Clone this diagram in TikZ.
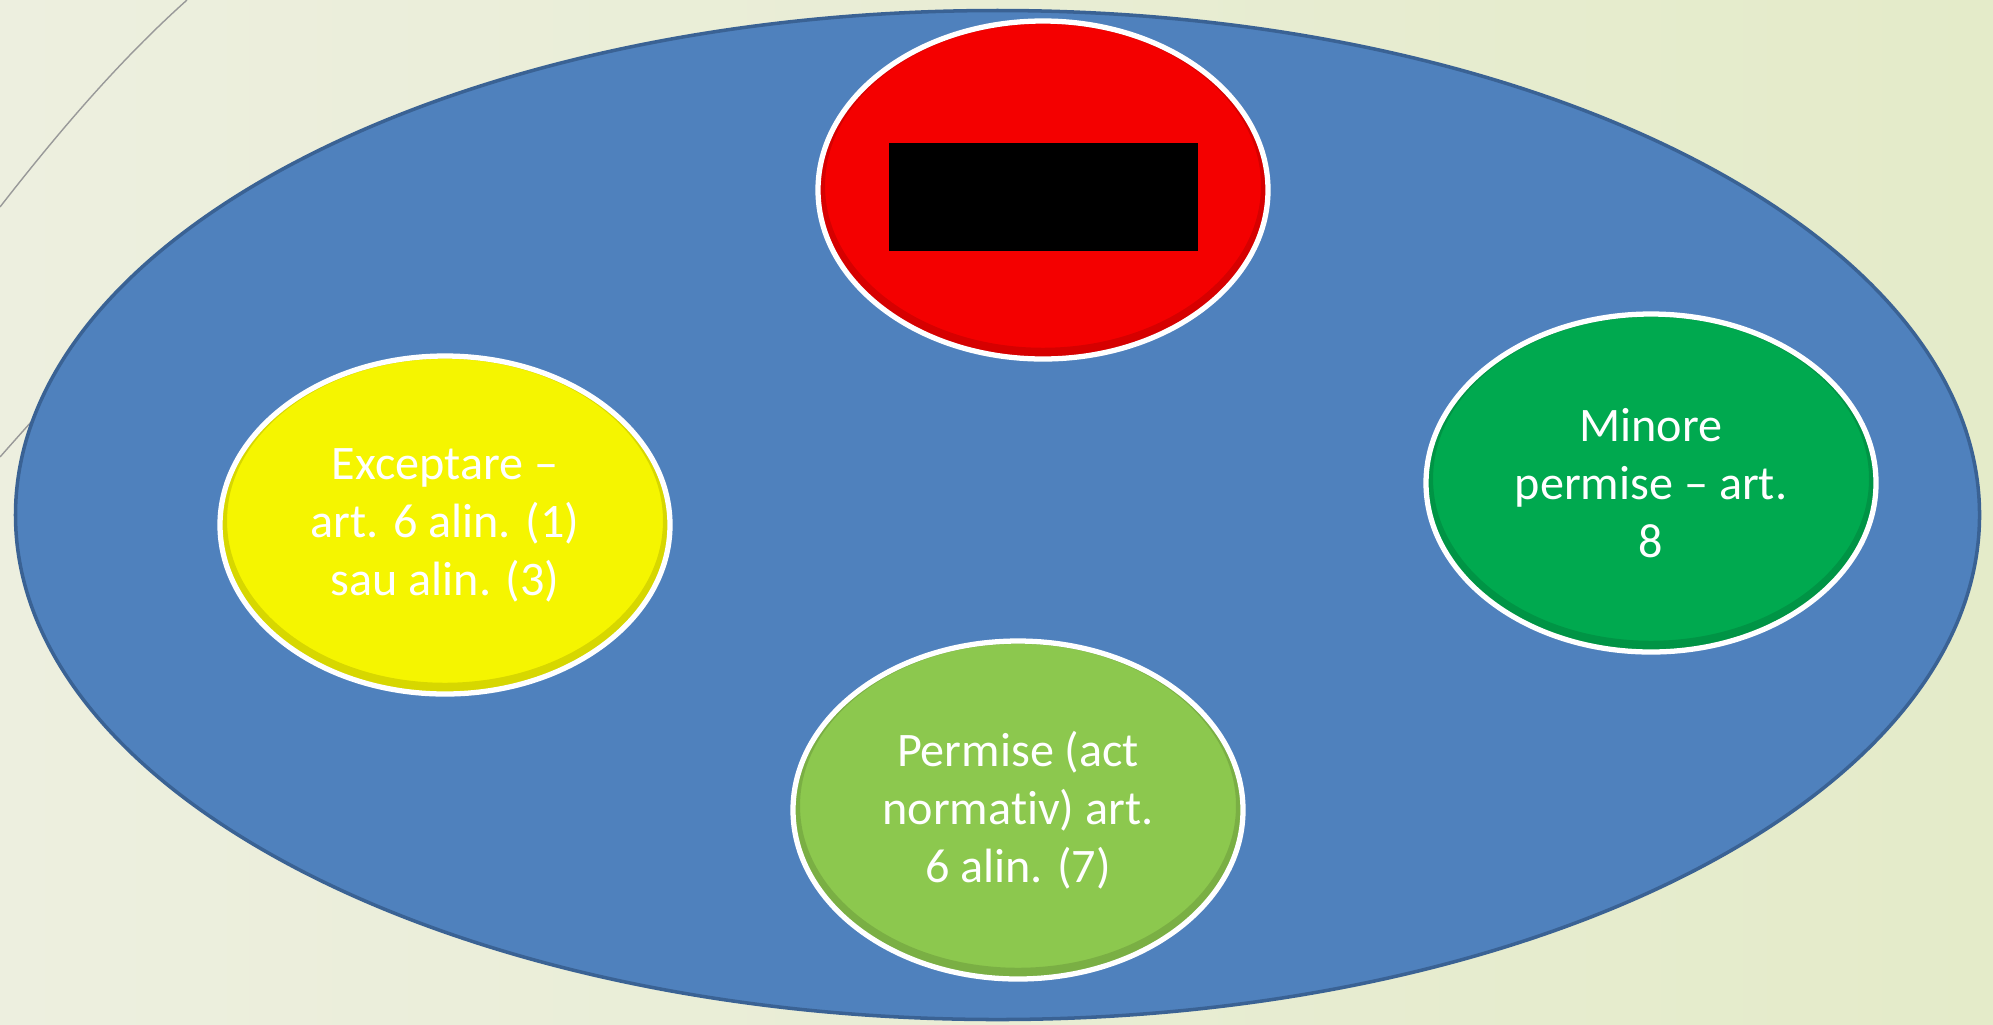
\documentclass[tikz,border=0pt]{standalone}
\usepackage{fontspec}
\setmainfont{Carlito}[Ligatures={TeX,NoCommon}]
\usetikzlibrary{shapes.geometric}
\definecolor{slidebg}{HTML}{E4EBC9}
\definecolor{slidebgl}{HTML}{EDEFDF}
\definecolor{panelblue}{HTML}{4F81BD}
\definecolor{panelrim}{HTML}{3A6294}
\definecolor{stopred}{HTML}{F40000}
\definecolor{excyellow}{HTML}{F5F500}
\definecolor{minorgreen}{HTML}{00A94F}
\definecolor{permgreen}{HTML}{8CC84E}
\tikzset{
  bubble/.style={ellipse, draw=white, line width=1.5pt, minimum width=4.5cm,
    minimum height=3.38cm, inner sep=0pt, align=center, text=white,
    font=\fontsize{13.7}{16.5}\selectfont,
    path picture={\draw[black, opacity=.12, line width=4pt]
      ([yshift=1.2pt]path picture bounding box.center) ellipse (2.25cm and 1.69cm);}},
}
\begin{document}
\begin{tikzpicture}
\useasboundingbox (0,0) rectangle (19.93,-10.24);
\shade[left color=slidebgl, right color=slidebg] (0,0) rectangle (19.93,-10.24);
\draw[gray!80, line width=0.4pt] (0,-2.07) .. controls (0.6,-1.3) and (1.2,-0.6) .. (1.87,0);
\draw[gray!80, line width=0.4pt] (0,-4.57) .. controls (0.15,-4.4) .. (0.4,-4.12);

\node[ellipse, fill=panelblue, draw=panelrim, line width=1pt, minimum width=19.64cm,
  minimum height=10.09cm, inner sep=0pt] (field) at (9.975,-5.15) {};

\node[bubble, fill=stopred] (stop) at (10.43,-1.90) {};
\node[fill=black, minimum width=3.09cm, minimum height=1.08cm, inner sep=0pt]
  (bar) at ([yshift=-0.07cm]stop) {};

\node[bubble, fill=excyellow] (except) at (4.45,-5.25)
  {Exceptare –\\art. 6 alin. (1)\\sau alin. (3)};
\node[bubble, fill=minorgreen] (minor) at (16.51,-4.83)
  {Minore\\permise – art.\\8};
\node[bubble, fill=permgreen] (permit) at (10.18,-8.10)
  {Permise (act\\normativ) art.\\6 alin. (7)};
\end{tikzpicture}
\end{document}
